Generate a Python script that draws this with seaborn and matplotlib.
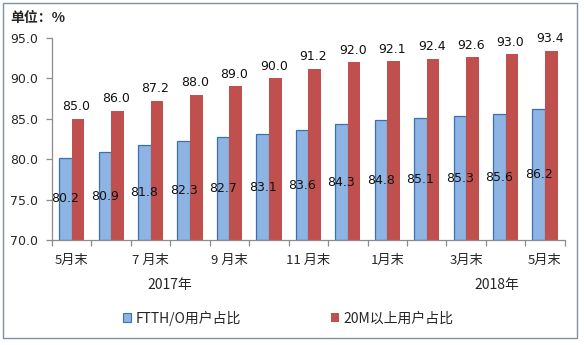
import matplotlib
matplotlib.use("Agg")
import matplotlib.pyplot as plt
from matplotlib.patches import Rectangle, Patch
import numpy as np
import pandas as pd
import seaborn as sns

# Monthly shares (%), May 2017 – May 2018
months = ["5月末", "6月末", "7月末", "8月末", "9月末", "10月末", "11 月末",
          "12月末", "1月末", "2月末", "3月末", "4月末", "5月末"]
ftth_share = [80.2, 80.9, 81.8, 82.3, 82.7, 83.1, 83.6, 84.3, 84.8, 85.1, 85.3, 85.6, 86.2]
over20m_share = [85.0, 86.0, 87.2, 88.0, 89.0, 90.0, 91.2, 92.0, 92.1, 92.4, 92.6, 93.0, 93.4]
series_names = ["FTTH/O用户占比", "20M以上用户占比"]
tick_labels = ["5月末", "7 月末", "9 月末", "11 月末", "1月末", "3月末", "5月末"]
year_labels = ["2017年", "2018年"]

sns.set_theme(style="white")
plt.rcParams["font.family"] = ["Noto Sans CJK SC", "DejaVu Sans"]

colors = ["#8DB4E2", "#C0504D"]

df = pd.DataFrame({
    "idx": list(range(len(months))) * 2,
    "value": ftth_share + over20m_share,
    "series": [series_names[0]] * len(months) + [series_names[1]] * len(months),
})

fig = plt.figure(figsize=(5.84, 3.45), dpi=100)
ax = fig.add_axes([0.089, 0.304, 0.878, 0.586])

sns.barplot(data=df, x="idx", y="value", hue="series", palette=colors,
            width=0.64, dodge=True, ax=ax, legend=False, saturation=1,
            native_scale=False)

ax.set_ylim(70, 95)
ax.set_xlim(-0.5, len(months) - 0.5)

# Style bars and add value labels
blue_bars = ax.containers[0]
red_bars = ax.containers[1]
for bar, v in zip(blue_bars, ftth_share):
    bar.set_edgecolor("#3A70B0")
    bar.set_linewidth(0.9)
    bar.set_y(70)
    bar.set_height(v - 70)
    ax.text(bar.get_x() + bar.get_width() / 2, (v + 70) / 2, f"{v:.1f}",
            ha="center", va="center", fontsize=9, color="#111111",
            family="DejaVu Sans")
for bar, v in zip(red_bars, over20m_share):
    bar.set_edgecolor("none")
    bar.set_y(70)
    bar.set_height(v - 70)
    ax.annotate(f"{v:.1f}", (bar.get_x() + bar.get_width() / 2, v),
                xytext=(-1, 4), textcoords="offset points",
                ha="center", va="bottom", fontsize=9, color="#111111",
                family="DejaVu Sans")

# Axes styling
for s in ["top", "right"]:
    ax.spines[s].set_visible(False)
for s in ["left", "bottom"]:
    ax.spines[s].set_color("#8C8C8C")
    ax.spines[s].set_linewidth(0.9)

ax.set_yticks(np.arange(70, 96, 5))
ax.set_yticklabels([f"{t:.1f}" for t in np.arange(70, 96, 5)],
                   fontsize=9, family="DejaVu Sans")
ax.tick_params(axis="y", which="major", left=True, length=4, width=0.9,
               color="#8C8C8C", pad=6)

ax.set_xticks(np.arange(0, len(months), 2))
ax.set_xticklabels(tick_labels, fontsize=9.5)
ax.set_xticks(np.arange(-0.5, len(months), 1), minor=True)
ax.tick_params(axis="x", which="major", bottom=False, pad=4)
ax.tick_params(axis="x", which="minor", bottom=True, length=4, width=0.9,
               color="#8C8C8C")
ax.set_xlabel("")
ax.set_ylabel("")
ax.grid(False)

# Unit label and year labels
fig.text(10 / 584, 1 - 18 / 345, "单位：%", fontsize=10, fontweight="bold",
         va="center", ha="left")
fig.text(170 / 584, 1 - 285 / 345, year_labels[0], fontsize=10,
         va="center", ha="center")
fig.text(497 / 584, 1 - 285 / 345, year_labels[1], fontsize=10,
         va="center", ha="center")

# Legend
handles = [Patch(facecolor=colors[0], edgecolor="#3A70B0", linewidth=0.8),
           Patch(facecolor=colors[1], edgecolor="none")]
fig.legend(handles, series_names, loc="center", ncol=2,
           bbox_to_anchor=(288 / 584, 1 - 318 / 345), frameon=False,
           fontsize=10, handlelength=0.6, handleheight=0.6,
           handletextpad=0.3, columnspacing=6.5)

# Outer chart border
fig.patches.append(Rectangle((3 / 584, 7 / 345), 574 / 584, 335 / 345,
                             transform=fig.transFigure, fill=False,
                             edgecolor="#7F8FA6", linewidth=1.0))

fig.savefig("out.png", dpi=100)
